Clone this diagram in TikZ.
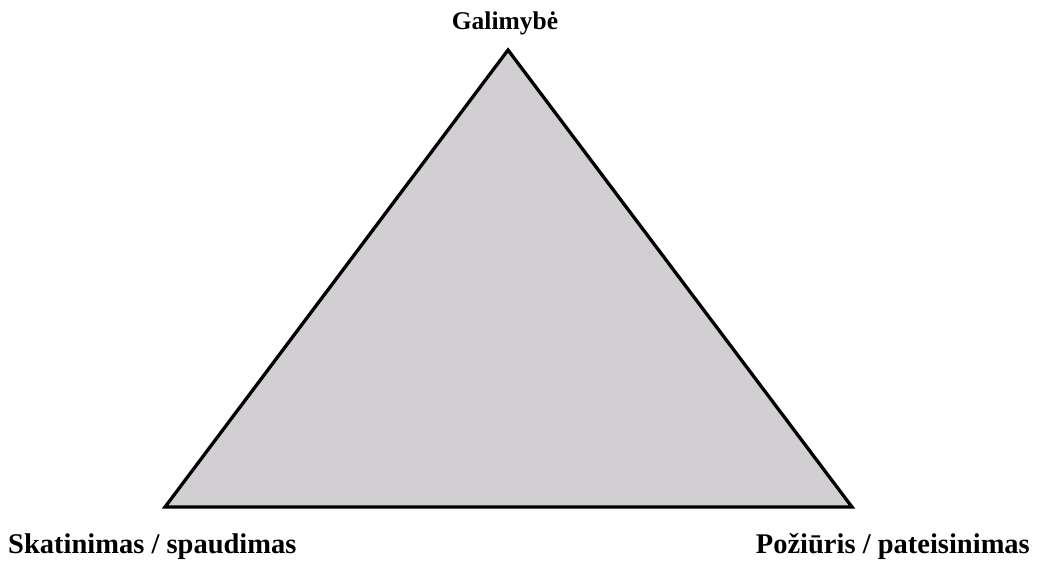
\documentclass[tikz,border=0pt]{standalone}
\usepackage{fontspec}
\setmainfont{Liberation Serif}
\definecolor{trifill}{RGB}{209,207,209}
\begin{document}
\begin{tikzpicture}[x=1pt,y=-1pt,
  lbl/.style={font=\fontsize{28.5}{32}\selectfont\bfseries, inner sep=0pt}]
\useasboundingbox (0,0) rectangle (1038,565);
\coordinate (top) at (508,50);
\coordinate (bl) at (165,507);
\coordinate (br) at (852,507);
\draw[line width=3.3pt, line join=miter, fill=trifill] (top) -- (bl) -- (br) -- cycle;
\node[lbl, font=\fontsize{25.5}{30}\selectfont\bfseries, anchor=base] (g) at (505,29) {Galimybė};
\node[lbl, anchor=base west] (s) at (8,553) {Skatinimas / spaudimas};
\node[lbl, anchor=base east] (p) at (1030,553) {Požiūris / pateisinimas};
\end{tikzpicture}
\end{document}
